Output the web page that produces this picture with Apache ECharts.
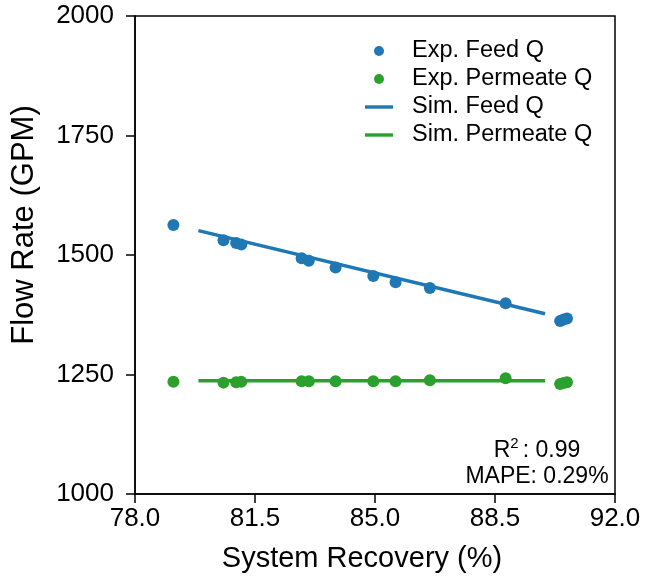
<!DOCTYPE html>
<html>
<head>
<meta charset="utf-8">
<script src="https://cdn.jsdelivr.net/npm/echarts@6/dist/echarts.min.js"></script>
<style>html,body{margin:0;padding:0;background:#fff;}#c{width:646px;height:583px;}</style>
</head>
<body>
<div id="c"></div>
<script>
// Experimental points: system recovery (%) vs flow rate (GPM)
var expRecovery = [79.12, 80.58, 80.95, 81.10, 82.86, 83.07, 83.85, 84.95, 85.60, 86.60, 88.81, 90.40, 90.50, 90.60];
var expFeedQ    = [1563, 1531, 1525, 1522, 1493, 1488, 1474, 1456, 1443, 1431, 1399, 1362, 1365, 1367];
var expPermQ    = [1235, 1233, 1234, 1235, 1236, 1236, 1236, 1236, 1236, 1238, 1242, 1230, 1232, 1234];
// Simulated lines
var simRecovery = [79.85, 89.96];
var simFeedQ    = [1551, 1377];
var simPermQ    = [1237, 1237];
var xTicks = [78.0, 81.5, 85.0, 88.5, 92.0];
var yTicks = [1000, 1250, 1500, 1750, 2000];
var stats = {r2: '0.99', mape: '0.29%'};

function pairs(xs, ys){ return xs.map(function(x,i){ return [x, ys[i]]; }); }

var BLUE = '#1f77b4', GREEN = '#2ca02c';
var FONT = 'Liberation Sans, Arial, sans-serif';
var LINE_ICON = 'path://M0,0H28V3.4H0Z';
var chart = echarts.init(document.getElementById('c'), null, {renderer:'canvas'});
chart.setOption({
  animation: false,
  backgroundColor: '#fff',
  grid: {left: 135, right: 31, top: 16, bottom: 89, show: true, borderColor: '#000', borderWidth: 1.5, backgroundColor: 'transparent'},
  xAxis: {
    type: 'value', min: xTicks[0], max: xTicks[xTicks.length-1], interval: 3.5,
    name: 'System Recovery (%)', nameLocation: 'middle', nameGap: 50,
    nameTextStyle: {fontFamily: FONT, fontSize: 29, color: '#000', padding: [0, 26, 0, 0]},
    axisLine: {lineStyle: {color: '#000', width: 1.5}},
    axisTick: {show: true, length: 9, lineStyle: {color: '#000', width: 1.5}},
    axisLabel: {fontFamily: FONT, fontSize: 26, color: '#000', margin: 12, formatter: function(v){ return v.toFixed(1); }},
    splitLine: {show: false}
  },
  yAxis: {
    type: 'value', min: yTicks[0], max: yTicks[yTicks.length-1], interval: 250,
    name: 'Flow Rate (GPM)', nameLocation: 'middle', nameGap: 95,
    nameTextStyle: {fontFamily: FONT, fontSize: 31, color: '#000', padding: [0, 0, 0, 60]},
    axisLine: {lineStyle: {color: '#000', width: 1.5}},
    axisTick: {show: true, length: 9, lineStyle: {color: '#000', width: 1.5}},
    axisLabel: {fontFamily: FONT, fontSize: 26, color: '#000', margin: 21, formatter: function(v){ return String(v); }},
    splitLine: {show: false}
  },
  legend: {
    orient: 'vertical', left: 360, top: 34, itemWidth: 28, itemHeight: 10, itemGap: 4,
    textStyle: {fontFamily: FONT, fontSize: 23.5, color: '#000', lineHeight: 22, padding: [0,0,0,14]},
    data: [
      {name: 'Exp. Feed Q', icon: 'circle'},
      {name: 'Exp. Permeate Q', icon: 'circle'},
      {name: 'Sim. Feed Q', icon: LINE_ICON},
      {name: 'Sim. Permeate Q', icon: LINE_ICON}
    ]
  },
  graphic: [{
    type: 'text',
    x: 537, y: 436,
    style: {
      text: '{r|R}{s|2}{r|: ' + stats.r2 + '}\n{r|MAPE: ' + stats.mape + '}',
      align: 'center', verticalAlign: 'top',
      rich: {
        r: {fontFamily: FONT, fontSize: 23, fill: '#000', lineHeight: 26, verticalAlign: 'bottom'},
        s: {fontFamily: FONT, fontSize: 15, fill: '#000', lineHeight: 26, verticalAlign: 'top', padding: [0,4,14,0]}
      }
    }
  }],
  series: [
    {name: 'Exp. Feed Q', type: 'scatter', data: pairs(expRecovery, expFeedQ), symbolSize: 12, itemStyle: {color: BLUE, opacity: 1}, z: 3},
    {name: 'Exp. Permeate Q', type: 'scatter', data: pairs(expRecovery, expPermQ), symbolSize: 12, itemStyle: {color: GREEN, opacity: 1}, z: 3},
    {name: 'Sim. Feed Q', type: 'line', data: pairs(simRecovery, simFeedQ), symbol: 'none', lineStyle: {color: BLUE, width: 3.5}, itemStyle: {color: BLUE}, z: 2},
    {name: 'Sim. Permeate Q', type: 'line', data: pairs(simRecovery, simPermQ), symbol: 'none', lineStyle: {color: GREEN, width: 3.5}, itemStyle: {color: GREEN}, z: 2}
  ]
});
</script>
</body>
</html>
